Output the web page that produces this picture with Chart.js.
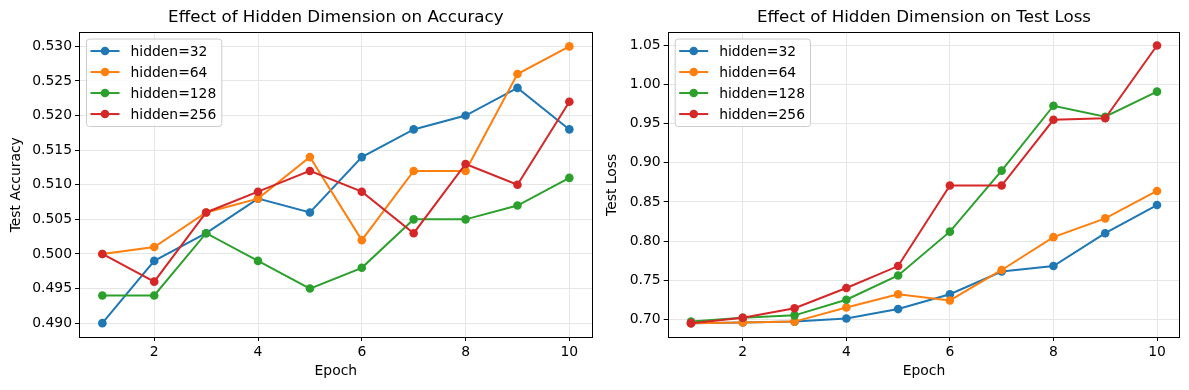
<!DOCTYPE html>
<html>
<head>
<meta charset="utf-8">
<script src="https://cdn.jsdelivr.net/npm/chart.js@4.4.1/dist/chart.umd.min.js"></script>
<style>
  html, body { margin: 0; padding: 0; background: #fff; }
  body { width: 1189px; height: 390px; position: relative; overflow: hidden; }
  .panel { position: absolute; top: 0; height: 390px; }
  #p1 { left: 0; width: 600px; }
  #p2 { left: 600px; width: 589px; }
</style>
</head>
<body>
<div class="panel" id="p1"><canvas id="graficoAcc" width="600" height="390"></canvas></div>
<div class="panel" id="p2"><canvas id="graficoLoss" width="589" height="390"></canvas></div>
<script>
// datos
const epochs = [1, 2, 3, 4, 5, 6, 7, 8, 9, 10];
const hiddenLabels = ["hidden=32", "hidden=64", "hidden=128", "hidden=256"];
const colores = ["#1f77b4", "#ff7f0e", "#2ca02c", "#d62728"];

const acc32  = [0.490, 0.499, 0.503, 0.508, 0.506, 0.514, 0.518, 0.520, 0.524, 0.518];
const acc64  = [0.500, 0.501, 0.506, 0.508, 0.514, 0.502, 0.512, 0.512, 0.526, 0.530];
const acc128 = [0.494, 0.494, 0.503, 0.499, 0.495, 0.498, 0.505, 0.505, 0.507, 0.511];
const acc256 = [0.500, 0.496, 0.506, 0.509, 0.512, 0.509, 0.503, 0.513, 0.510, 0.522];

const loss32  = [0.695, 0.696, 0.697, 0.701, 0.713, 0.732, 0.761, 0.768, 0.810, 0.846];
const loss64  = [0.695, 0.696, 0.697, 0.715, 0.732, 0.724, 0.763, 0.805, 0.829, 0.864];
const loss128 = [0.697, 0.702, 0.705, 0.725, 0.756, 0.812, 0.890, 0.973, 0.959, 0.991];
const loss256 = [0.695, 0.702, 0.714, 0.740, 0.768, 0.871, 0.871, 0.955, 0.957, 1.050];

const xTicks = [2, 4, 6, 8, 10];
const accTicks = [0.490, 0.495, 0.500, 0.505, 0.510, 0.515, 0.520, 0.525, 0.530];
const lossTicks = [0.70, 0.75, 0.80, 0.85, 0.90, 0.95, 1.00, 1.05];

const FONT = "'DejaVu Sans', sans-serif";

// marco negro + leyenda estilo matplotlib
const marcoYLeyenda = {
  id: "marcoYLeyenda",
  afterDraw(chart) {
    const ctx = chart.ctx;
    const a = chart.chartArea;
    ctx.save();
    ctx.strokeStyle = "#000";
    ctx.lineWidth = 1;
    const l = Math.round(a.left) + 0.5, t = Math.round(a.top) - 0.5;
    const r = Math.round(a.right) - 0.5, b = Math.round(a.bottom) + 0.5;
    ctx.strokeRect(l, t, r - l, b - t);

    // leyenda
    ctx.font = "13.9px " + FONT;
    const sets = chart.data.datasets;
    let maxW = 0;
    sets.forEach(ds => { maxW = Math.max(maxW, ctx.measureText(ds.label).width); });
    const bx = a.left + 7.5, by = a.top + 6.5;
    const bw = 44 + maxW + 5.5, bh = 12 + 21 * (sets.length - 1) + 12.5;
    ctx.beginPath();
    ctx.roundRect(bx, by, bw, bh, 3);
    ctx.fillStyle = "rgba(255,255,255,0.8)";
    ctx.fill();
    ctx.strokeStyle = "#cccccc";
    ctx.stroke();
    sets.forEach((ds, i) => {
      const cy = by + 12 + 21 * i;
      ctx.strokeStyle = ds.borderColor;
      ctx.lineWidth = 2;
      ctx.beginPath();
      ctx.moveTo(bx + 4, cy);
      ctx.lineTo(bx + 33, cy);
      ctx.stroke();
      ctx.fillStyle = ds.borderColor;
      ctx.beginPath();
      ctx.arc(bx + 18.5, cy, 4.3, 0, Math.PI * 2);
      ctx.fill();
      ctx.fillStyle = "#000";
      ctx.textBaseline = "middle";
      ctx.textAlign = "left";
      ctx.fillText(ds.label, bx + 44, cy + 1);
    });
    ctx.restore();
  }
};

function crearGrafico(canvas, series, titulo, yTitulo, yTicks, yMin, yMax, decimales, anchoY, padTituloY, padDerecha) {
  const datasets = series.map((datos, i) => ({
    label: hiddenLabels[i],
    data: epochs.map((e, j) => ({ x: e, y: datos[j] })),
    borderColor: colores[i],
    backgroundColor: colores[i],
    pointBackgroundColor: colores[i],
    pointBorderWidth: 0,
    pointRadius: 4.3,
    pointHoverRadius: 4.3,
    borderWidth: 2,
    tension: 0,
    order: series.length - 1 - i
  }));

  return new Chart(canvas, {
    type: "line",
    data: { datasets },
    plugins: [marcoYLeyenda],
    options: {
      responsive: false,
      animation: false,
      events: [],
      layout: { padding: { left: 0, right: padDerecha, top: 0, bottom: 0 } },
      plugins: {
        legend: { display: false },
        tooltip: { enabled: false },
        title: {
          display: true,
          text: titulo,
          fullSize: false,
          color: "#000",
          font: { family: FONT, size: 16.7, weight: "normal" },
          padding: { top: 8, bottom: 4.5 }
        }
      },
      scales: {
        x: {
          type: "linear",
          min: 0.55,
          max: 10.45,
          afterBuildTicks: s => { s.ticks = xTicks.map(v => ({ value: v })); },
          afterFit: s => { s.height = 53; },
          ticks: {
            color: "#000",
            font: { family: FONT, size: 13.9 },
            padding: 3,
            maxRotation: 0,
            callback: v => String(v)
          },
          grid: { color: "#e6e6e6", lineWidth: 1, tickColor: "#000", tickLength: 4 },
          border: { display: false },
          title: {
            display: true,
            text: "Epoch",
            color: "#000",
            font: { family: FONT, size: 13.9 },
            padding: { top: 0, bottom: 10 }
          }
        },
        y: {
          min: yMin,
          max: yMax,
          afterBuildTicks: s => { s.ticks = yTicks.map(v => ({ value: v })); },
          afterFit: s => { s.width = anchoY; },
          ticks: {
            color: "#000",
            font: { family: FONT, size: 13.9 },
            padding: 3,
            callback: v => Number(v).toFixed(decimales)
          },
          grid: { color: "#e6e6e6", lineWidth: 1, tickColor: "#000", tickLength: 4 },
          border: { display: false },
          title: {
            display: true,
            text: yTitulo,
            color: "#000",
            font: { family: FONT, size: 13.9 },
            padding: { top: padTituloY, bottom: 0 }
          }
        }
      }
    }
  });
}

crearGrafico(document.getElementById("graficoAcc"),
  [acc32, acc64, acc128, acc256],
  "Effect of Hidden Dimension on Accuracy", "Test Accuracy",
  accTicks, 0.488, 0.532, 3, 79, 7.6, 7.3);

crearGrafico(document.getElementById("graficoLoss"),
  [loss32, loss64, loss128, loss256],
  "Effect of Hidden Dimension on Test Loss", "Test Loss",
  lossTicks, 0.6773, 1.0666, 2, 67.7, 3.9, 8.7);
</script>
</body>
</html>
